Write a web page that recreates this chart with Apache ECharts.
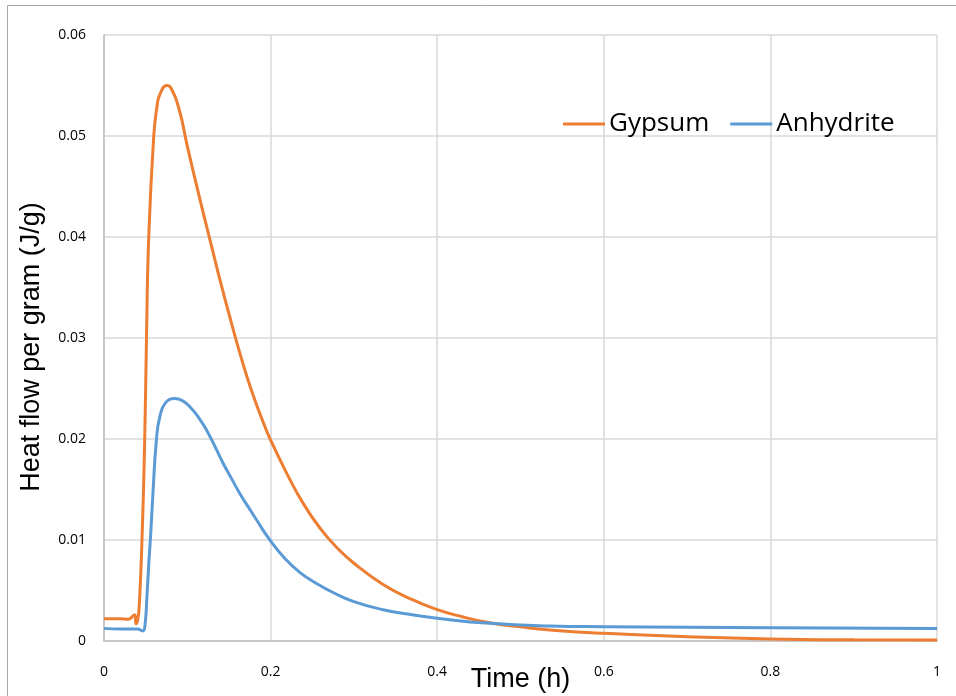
<!DOCTYPE html>
<html>
<head>
<meta charset="utf-8">
<script src="https://cdn.jsdelivr.net/npm/echarts@6/dist/echarts.min.js"></script>
<style>
  html, body { margin: 0; padding: 0; background: #fff; }
  #chart { width: 956px; height: 696px; }
</style>
</head>
<body>
<div id="chart"></div>
<script>
// Heat flow curves
const gypsumTime = [0, 0.02, 0.029, 0.035, 0.037, 0.0384, 0.0405, 0.0424, 0.0456, 0.0489, 0.051, 0.0537, 0.0597, 0.0636,
  0.067, 0.0755, 0.080, 0.090, 0.100, 0.110, 0.120, 0.130, 0.140, 0.150, 0.160, 0.170, 0.180, 0.190, 0.200,
  0.220, 0.240, 0.260, 0.280, 0.300, 0.335, 0.370, 0.400, 0.430, 0.463, 0.500, 0.535,
  0.600, 0.700, 0.800, 0.900, 1.0];
const gypsumFlow = [0.0022, 0.0022, 0.00215, 0.0025, 0.0026, 0.0017, 0.0021, 0.0036, 0.0100, 0.0201, 0.0300, 0.0400, 0.0500, 0.0529,
  0.0541, 0.0550, 0.0548, 0.0527, 0.0490, 0.0455, 0.0421, 0.0388, 0.0355, 0.0324, 0.0294, 0.0266, 0.0241, 0.0219, 0.0199,
  0.0165, 0.0135, 0.0111, 0.0092, 0.0077, 0.0056, 0.0041, 0.0031, 0.0024, 0.0018, 0.0014, 0.00109,
  0.00076, 0.00042, 0.0002, 0.00012, 0.0001];

const anhydriteTime = [0, 0.02, 0.04, 0.0465, 0.049, 0.0516, 0.054, 0.056, 0.059, 0.063, 0.067, 0.074, 0.085, 0.094, 0.103, 0.113, 0.123,
  0.133, 0.143, 0.153, 0.163, 0.173, 0.183, 0.200, 0.218, 0.235, 0.255, 0.275, 0.300, 0.335, 0.370, 0.400, 0.463, 0.535, 0.600, 0.800, 1.0];
const anhydriteFlow = [0.00125, 0.0012, 0.0012, 0.0010, 0.0014, 0.0045, 0.0080, 0.0105, 0.0150, 0.0200, 0.0222, 0.0236, 0.0240, 0.0238, 0.0232, 0.0222, 0.0209,
  0.0193, 0.0176, 0.0161, 0.0146, 0.0133, 0.0120, 0.0099, 0.0081, 0.0068, 0.0057, 0.0048, 0.0039, 0.0031, 0.0026, 0.00225, 0.00175, 0.00149, 0.00142, 0.00132, 0.00125];

const seriesNames = ['Gypsum', 'Anhydrite'];
const xTicks = { min: 0, max: 1, interval: 0.2 };
const yTicks = { min: 0, max: 0.06, interval: 0.01 };

const COLORS = {
  gypsum: '#ED7D31',
  anhydrite: '#5B9BD5',
  grid: '#d9d9d9',
  axis: '#bfbfbf',
  text: '#000000'
};

const pairs = (xs, ys) => xs.map((x, i) => [x, ys[i]]);

const chart = echarts.init(document.getElementById('chart'));

const option = {
  animation: false,
  backgroundColor: '#fff',
  graphic: [
    {
      type: 'rect',
      shape: { x: 7.5, y: 5.5, width: 980, height: 720 },
      style: { fill: 'none', stroke: '#a6a6a6', lineWidth: 1 },
      silent: true
    }
  ],
  grid: { left: 104, right: 19, top: 35, bottom: 55, outerBoundsMode: 'none' },
  legend: {
    data: seriesNames,
    left: 558,
    top: 106,
    itemWidth: 42,
    itemHeight: 3,
    itemGap: 21,
    icon: 'rect',
    textStyle: { fontFamily: 'Open Sans', fontSize: 26, color: COLORS.text, padding: [0, 0, 0, -1] }
  },
  xAxis: {
    type: 'value',
    min: xTicks.min,
    max: xTicks.max,
    interval: xTicks.interval,
    name: 'Time (h)',
    nameLocation: 'middle',
    nameGap: 25,
    nameMoveOverlap: false,
    nameTextStyle: { fontFamily: 'Liberation Sans', fontSize: 27, color: COLORS.text },
    axisLine: { show: true, lineStyle: { color: COLORS.axis, width: 1.5 } },
    axisTick: { show: false },
    axisLabel: {
      margin: 24,
      fontFamily: 'Open Sans',
      fontSize: 14,
      color: COLORS.text,
      formatter: v => String(+v.toFixed(1))
    },
    splitLine: { show: true, lineStyle: { color: COLORS.grid, width: 1.5 } }
  },
  yAxis: {
    type: 'value',
    min: yTicks.min,
    max: yTicks.max,
    interval: yTicks.interval,
    name: 'Heat flow per gram (J/g)',
    nameLocation: 'middle',
    nameGap: 59,
    nameMoveOverlap: false,
    nameTextStyle: { fontFamily: 'Liberation Sans', fontSize: 27, color: COLORS.text, padding: [0, 18, 0, 0] },
    axisLine: { show: true, lineStyle: { color: COLORS.axis, width: 1.5 } },
    axisTick: { show: false },
    axisLabel: {
      margin: 18,
      fontFamily: 'Open Sans',
      fontSize: 14,
      color: COLORS.text,
      formatter: v => String(+v.toFixed(2))
    },
    splitLine: { show: true, lineStyle: { color: COLORS.grid, width: 1.5 } }
  },
  series: [
    {
      name: seriesNames[0],
      type: 'line',
      data: pairs(gypsumTime, gypsumFlow),
      showSymbol: false,
      smooth: 0.5,
      itemStyle: { color: COLORS.gypsum },
      lineStyle: { color: COLORS.gypsum, width: 3 },
      z: 3
    },
    {
      name: seriesNames[1],
      type: 'line',
      data: pairs(anhydriteTime, anhydriteFlow),
      showSymbol: false,
      smooth: 0.5,
      itemStyle: { color: COLORS.anhydrite },
      lineStyle: { color: COLORS.anhydrite, width: 3 },
      z: 4
    }
  ]
};

chart.setOption(option);
</script>
</body>
</html>
